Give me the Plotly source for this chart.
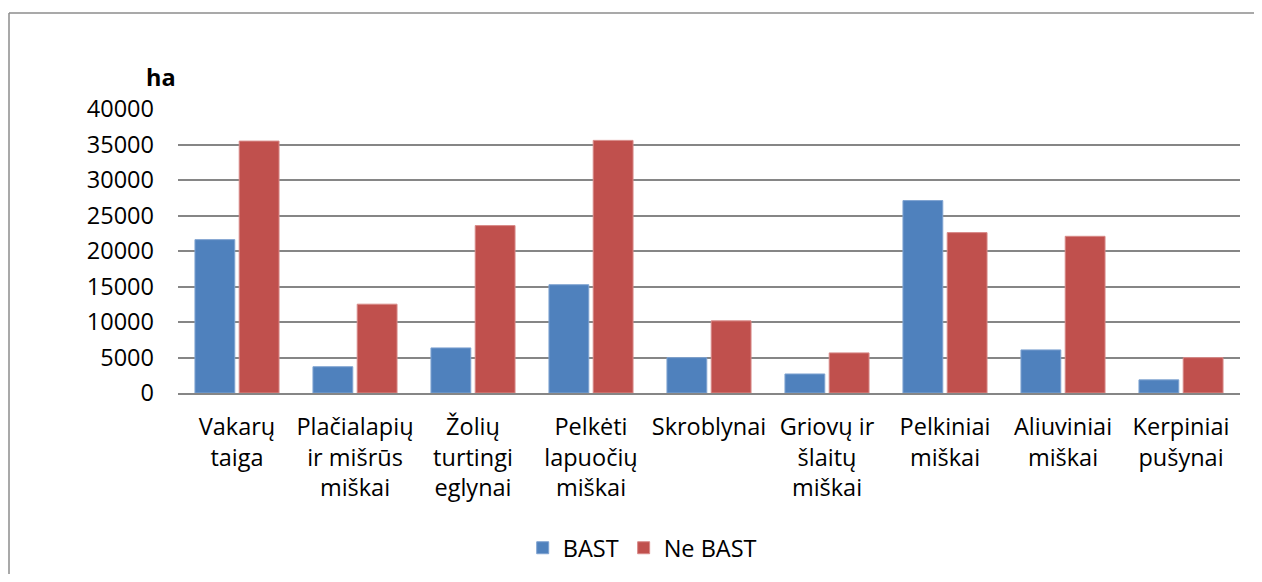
import plotly.graph_objects as go

categories = [
    "Vakarų<br>taiga",
    "Plačialapių<br>ir mišrūs<br>miškai",
    "Žolių<br>turtingi<br>eglynai",
    "Pelkėti<br>lapuočių<br>miškai",
    "Skroblynai",
    "Griovų ir<br>šlaitų<br>miškai",
    "Pelkiniai<br>miškai",
    "Aliuviniai<br>miškai",
    "Kerpiniai<br>pušynai",
]
bast = [21600, 3700, 6350, 15250, 4980, 2680, 27100, 6070, 1850]
ne_bast = [35480, 12510, 23580, 35580, 10160, 5650, 22590, 22070, 4980]
y_ticks = [0, 5000, 10000, 15000, 20000, 25000, 30000, 35000, 40000]

FONT = "Open Sans"
FS = 23.5

fig = go.Figure()
fig.add_trace(go.Bar(
    x=categories, y=bast, name="BAST",
    marker=dict(color="#4F81BD", line=dict(color="#7FA3D1", width=1)),
))
fig.add_trace(go.Bar(
    x=categories, y=ne_bast, name="Ne BAST",
    marker=dict(color="#C0504D", line=dict(color="#D88A88", width=1)),
))

# page body has an 8px margin; plot area targets x 178-1240, y 109-393 on screen
bx0 = (9 - 178) / 1062
by1 = (393 - 13) / 284
border = dict(color="#8C8C8C", width=1.5)

fig.update_layout(
    width=1246, height=566,
    margin=dict(l=170, r=14, t=101, b=181),
    paper_bgcolor="white", plot_bgcolor="white",
    barmode="group", bargap=0.25, bargroupgap=0.1,
    font=dict(family=FONT, size=FS, color="black"),
    showlegend=True,
    legend=dict(
        orientation="h", xref="container", yref="container",
        x=0.509, y=0.046, xanchor="center", yanchor="middle",
        font=dict(size=FS), itemwidth=30, traceorder="normal",
    ),
    xaxis=dict(
        showgrid=False, showline=True, linecolor="#868686", linewidth=2,
        ticks="", tickfont=dict(size=FS), tickangle=0, ticklabelstandoff=12,
    ),
    yaxis=dict(
        range=[0, 40000], tickvals=y_ticks, ticktext=[str(v) for v in y_ticks],
        showgrid=True, gridcolor="#868686", gridwidth=2,
        zeroline=False, showline=False, ticks="", ticklabelstandoff=23,
        tickfont=dict(size=FS),
    ),
    annotations=[dict(
        text="<b>ha</b>", xref="paper", yref="paper",
        x=0.0, y=1.113, xanchor="right", yanchor="middle",
        showarrow=False, font=dict(size=FS, family=FONT),
    )],
    shapes=[
        dict(type="line", xref="paper", yref="paper",
             x0=bx0, x1=bx0, y0=-1.0, y1=by1, line=border, layer="below"),
        dict(type="line", xref="paper", yref="paper",
             x0=bx0, x1=1.2, y0=by1, y1=by1, line=border, layer="below"),
    ],
)

fig.write_html("out.html")
